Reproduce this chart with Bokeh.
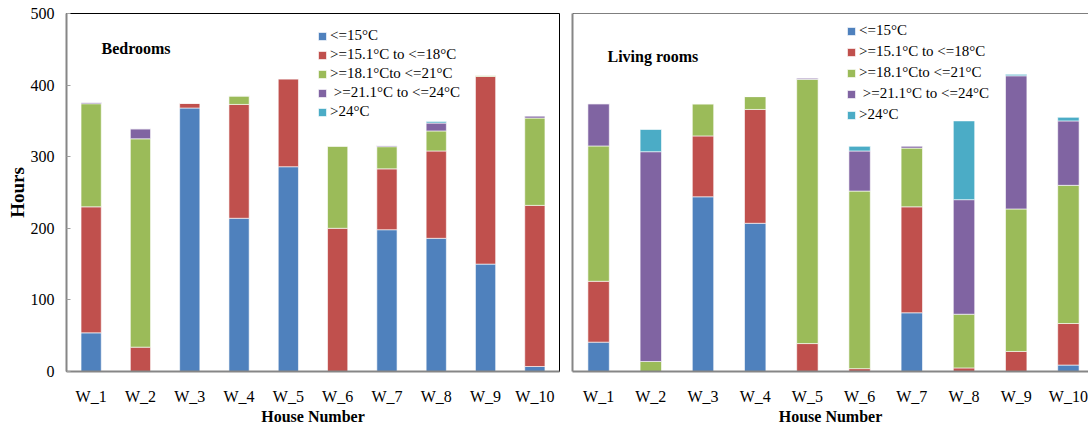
from bokeh.plotting import figure
from bokeh.layouts import row
from bokeh.models import (Range1d, FixedTicker, Span, Legend, LegendItem,
                          Label, ColumnDataSource)
from bokeh.embed import file_html
from bokeh.resources import INLINE

houses = ["W_1", "W_2", "W_3", "W_4", "W_5", "W_6", "W_7", "W_8", "W_9", "W_10"]
bands = ["<=15°C", ">=15.1°C to <=18°C", ">=18.1°Cto <=21°C",
         " >=21.1°C to <=24°C", ">24°C"]
band_colors = ["#4F81BD", "#C0504D", "#9BBB59", "#8064A2", "#4BACC6"]
y_ticks = [0, 100, 200, 300, 400, 500]

# Bedrooms (hours per temperature band)
bed_le15 = [54, 0, 368, 214, 286, 0, 198, 186, 150, 7]
bed_15_18 = [176, 34, 7, 159, 123, 200, 85, 122, 262, 225]
bed_18_21 = [144, 291, 0, 12, 0, 115, 31, 28, 2, 122]
bed_21_24 = [2, 14, 0, 0, 0, 0, 1.5, 11, 0, 3]
bed_gt24 = [0, 0, 0, 0, 0, 0, 0, 2, 0, 0]

# Living rooms
liv_le15 = [41, 0, 244, 207, 0, 0, 82, 0, 0, 9]
liv_15_18 = [85, 0, 85, 159, 39, 4, 148, 5, 28, 58]
liv_18_21 = [189, 14, 45, 18, 369, 248, 82, 75, 199, 193]
liv_21_24 = [59, 293, 0, 0, 2, 56, 3, 160, 186, 90]
liv_gt24 = [0, 31, 0, 0, 0, 6.5, 0, 110, 2, 5]

FONT = "Liberation Serif"


def panel(series, title, x_end, fw, fh, bl, br, bt, bb, show_y, leg_loc,
          leg_sp, title_xy):
    keys = ["s%d" % i for i in range(len(series))]
    data = {"x": [i + 1 for i in range(len(houses))]}
    for k, s in zip(keys, series):
        data[k] = s
    src = ColumnDataSource(data)
    p = figure(frame_width=fw, frame_height=fh, output_backend="svg",
               toolbar_location=None, x_range=Range1d(0.5, x_end),
               y_range=Range1d(0, 500), min_border_left=bl,
               min_border_right=br, min_border_top=bt, min_border_bottom=bb)
    p.xgrid.visible = False
    p.ygrid.visible = False
    p.background_fill_color = "white"
    p.border_fill_color = "white"
    rs = p.vbar_stack(keys, x="x", width=0.41, source=src, color=band_colors,
                      line_color="white", line_alpha=0.6, line_width=1)
    # x axis
    xa = p.xaxis[0]
    xa.ticker = FixedTicker(ticks=[i + 1 for i in range(len(houses))])
    xa.major_label_overrides = {i + 1: h for i, h in enumerate(houses)}
    xa.axis_line_color = "#868686"
    xa.axis_line_width = 2
    xa.major_tick_line_color = None
    xa.minor_tick_line_color = None
    xa.major_tick_out = 0
    xa.major_tick_in = 0
    xa.major_label_text_font = FONT
    xa.major_label_text_font_size = "16px"
    xa.major_label_text_color = "black"
    xa.major_label_standoff = 16
    xa.axis_label = "House Number"
    xa.axis_label_text_font = FONT
    xa.axis_label_text_font_style = "bold"
    xa.axis_label_text_font_size = "16px"
    xa.axis_label_text_color = "black"
    xa.axis_label_standoff = 0
    # y axis
    ya = p.yaxis[0]
    ya.axis_line_color = "#868686"
    ya.axis_line_width = 2
    ya.minor_tick_line_color = None
    if show_y:
        ya.ticker = FixedTicker(ticks=y_ticks)
        ya.major_tick_in = 4
        ya.major_tick_out = 0
        ya.major_tick_line_color = "#A0A0A0"
        ya.major_label_text_font = FONT
        ya.major_label_text_font_size = "16px"
        ya.major_label_text_color = "black"
        ya.major_label_standoff = 12
        ya.axis_label = "Hours"
        ya.axis_label_text_font = FONT
        ya.axis_label_text_font_style = "bold"
        ya.axis_label_text_font_size = "19px"
        ya.axis_label_text_color = "black"
        ya.axis_label_standoff = 0
        p.outline_line_color = "black"
        p.outline_line_width = 1
    else:
        ya.ticker = FixedTicker(ticks=[])
        ya.major_tick_in = 0
        ya.major_tick_out = 0
        ya.major_label_standoff = 0
        ya.major_tick_line_color = None
        p.outline_line_color = None
        p.add_layout(Span(location=500, dimension="width", line_color="black",
                          line_width=1))
    items = [LegendItem(label=b, renderers=[r]) for b, r in zip(bands, rs)]
    leg = Legend(items=items, location=leg_loc, border_line_color=None,
                 background_fill_alpha=0, padding=0, spacing=leg_sp, margin=0,
                 glyph_width=10, glyph_height=10, label_height=10,
                 label_standoff=3, label_text_font=FONT,
                 label_text_font_size="15px", label_text_color="black")
    p.add_layout(leg, "center")
    p.add_layout(Label(x=title_xy[0], y=title_xy[1], text=title,
                       text_font=FONT, text_font_style="bold",
                       text_font_size="16px", text_baseline="middle",
                       text_color="black"))
    return p


p1 = panel([bed_le15, bed_15_18, bed_18_21, bed_21_24, bed_gt24], "Bedrooms",
           10.5, 493, 358, 66, 6, 13, 57, True, (251, 251), 2, (1.21, 451))
p2 = panel([liv_le15, liv_15_18, liv_18_21, liv_21_24, liv_gt24], "Living rooms",
           10.385, 516, 358, 7, 0, 13, 57, False, (274, 248), 4, (1.17, 440))

layout = row(p1, p2)
open("out.html", "w").write(file_html(layout, INLINE))
